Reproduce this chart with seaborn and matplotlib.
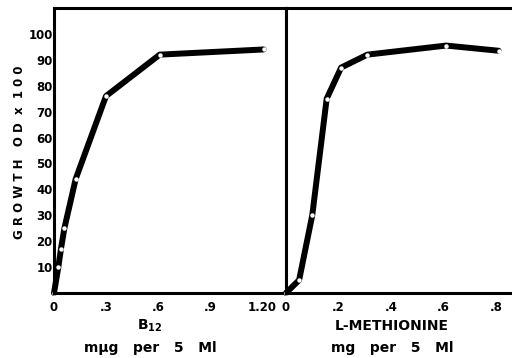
import matplotlib
matplotlib.use("Agg")
import matplotlib.pyplot as plt
import seaborn as sns
import pandas as pd

# Left panel: B12 (mug per 5 ml)
b12_dose = [0.0, 0.025, 0.04, 0.06, 0.125, 0.30, 0.61, 1.21]
b12_growth = [0, 10, 17, 25, 44, 76, 92, 94]

# Right panel: L-methionine (mg per 5 ml)
met_dose = [0.0, 0.05, 0.10, 0.155, 0.21, 0.31, 0.61, 0.81]
met_growth = [0, 5, 30, 75, 87, 92, 95.5, 93.5]

b12_ticks = [0, 0.3, 0.6, 0.9, 1.2]
b12_ticklabels = ["0", ".3", ".6", ".9", "1.20"]
met_ticks = [0, 0.2, 0.4, 0.6, 0.8]
met_ticklabels = ["0", ".2", ".4", ".6", ".8"]
y_ticks = [10, 20, 30, 40, 50, 60, 70, 80, 90, 100]

sns.set_theme(style="white")
plt.rcParams['font.family'] = ['DejaVu Sans']
plt.rcParams['font.weight'] = 'bold'
plt.rcParams['text.color'] = 'black'
plt.rcParams['xtick.color'] = 'black'
plt.rcParams['ytick.color'] = 'black'
plt.rcParams['xtick.labelcolor'] = 'black'
plt.rcParams['ytick.labelcolor'] = 'black'

fig = plt.figure(figsize=(5.12, 3.58), dpi=100)
W, H = 512, 358
x0, x1, x2 = 54, 286, 512
ytop, ybot = 8, 293
ax1 = fig.add_axes([x0 / W, 1 - ybot / H, (x1 - x0) / W, (ybot - ytop) / H])
ax2 = fig.add_axes([x1 / W, 1 - ybot / H, (x2 - x1) / W, (ybot - ytop) / H])

df1 = pd.DataFrame({"dose": b12_dose, "growth": b12_growth})
df2 = pd.DataFrame({"dose": met_dose, "growth": met_growth})

for ax, df in ((ax1, df1), (ax2, df2)):
    sns.lineplot(data=df, x="dose", y="growth", ax=ax, color="black",
                 linewidth=4.3, marker="o", markersize=3.2,
                 markerfacecolor="white", markeredgecolor="white",
                 markeredgewidth=0.0, solid_joinstyle="round",
                 solid_capstyle="round", clip_on=False)
    ax.set_ylim(0, 110)
    ax.set_yticks(y_ticks)
    ax.set_xlabel("")
    ax.set_ylabel("")
    for s in ax.spines.values():
        s.set_linewidth(2.2)
        s.set_color("black")
    ax.tick_params(direction="in", length=5, width=2, color="black",
                   labelsize=8.5, pad=3, labelcolor="black")

ax1.set_xlim(0, (x1 - x0) / 173.3)
ax1.set_xticks(b12_ticks)
ax1.set_xticklabels(b12_ticklabels, fontweight="bold")
ax1.set_yticklabels([str(v) for v in y_ticks], fontweight="bold")
ax1.tick_params(axis="y", pad=1)
ax1.tick_params(axis="x", pad=6)

ax2.set_xlim(0, (x2 - x1) / 262.5)
ax2.set_xticks(met_ticks)
ax2.set_xticklabels(met_ticklabels, fontweight="bold")
ax2.set_yticklabels([])
ax2.spines["right"].set_visible(False)
ax2.tick_params(axis="x", pad=6)

fig.text(20 / W, 1 - 152 / H, "G R O W T H   O D  x  1 0 0", rotation=90,
         ha="center", va="center", fontsize=8.5, fontweight="bold",
         color="black")
fig.text(150 / W, 1 - 326 / H, r"B$_{\mathbf{12}}$", ha="center", va="center",
         fontsize=10, fontweight="bold", color="black")
fig.text(150 / W, 1 - 348 / H, "m\u03bcg   per   5   Ml", ha="center", va="center",
         fontsize=10, fontweight="bold", color="black")
fig.text(392 / W, 1 - 326 / H, "L-METHIONINE", ha="center", va="center",
         fontsize=10, fontweight="bold", color="black")
fig.text(392 / W, 1 - 348 / H, "mg   per   5   Ml", ha="center", va="center",
         fontsize=10, fontweight="bold", color="black")

fig.savefig("out.png", dpi=100, facecolor="white")
